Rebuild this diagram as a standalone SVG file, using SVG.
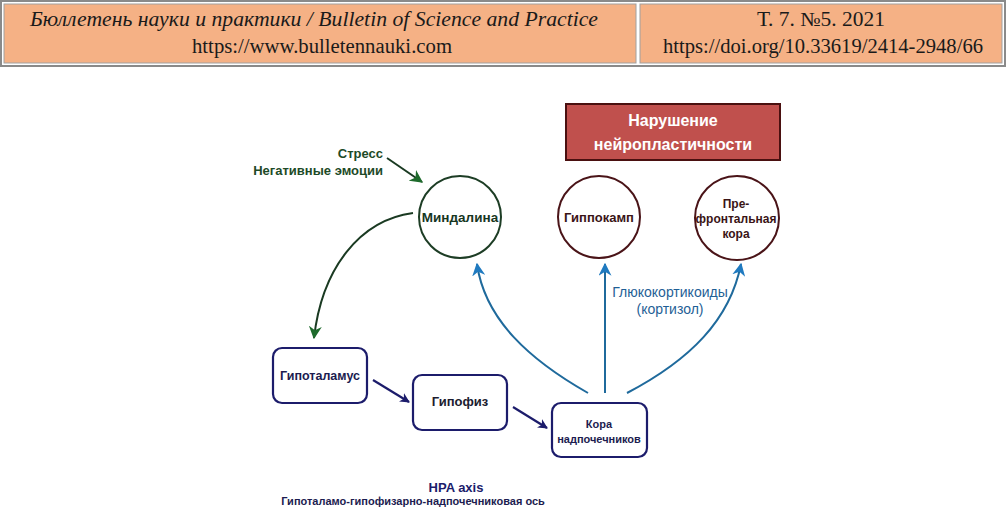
<svg xmlns="http://www.w3.org/2000/svg" width="1007" height="521" viewBox="0 0 1007 521">
<style>
.hdr{font-family:"Liberation Serif","Times New Roman",serif;font-size:20px;fill:#1a1a1a;text-anchor:middle}
.it{font-style:italic}
.lbl{font-family:"Liberation Sans",Arial,sans-serif;font-weight:bold;text-anchor:middle}
.box{fill:#fff;stroke:#1c1c6b;stroke-width:2.2}
.cg{fill:#fff;stroke:#1d3d25;stroke-width:2}
.cr{fill:#fff;stroke:#4a1418;stroke-width:2}
.blue{fill:none;stroke:#1f6a9c;stroke-width:2}
.navy{fill:none;stroke:#1c1c6b;stroke-width:2.2}
.green{fill:none;stroke:#1a3a22;stroke-width:2}
</style>
<defs>
<marker id="ab" viewBox="0 0 10 10" refX="9" refY="5" markerWidth="13" markerHeight="13" orient="auto" markerUnits="userSpaceOnUse">
<path d="M0,0 L10,5 L0,10 L3,5 Z" fill="#1f7ac0"/>
</marker>
<marker id="an" viewBox="0 0 10 10" refX="9" refY="5" markerWidth="10" markerHeight="10" orient="auto" markerUnits="userSpaceOnUse">
<path d="M0,0 L10,5 L0,10 L3,5 Z" fill="#1c1c6b"/>
</marker>
<marker id="ag" viewBox="0 0 10 10" refX="9" refY="5" markerWidth="13" markerHeight="13" orient="auto" markerUnits="userSpaceOnUse">
<path d="M0,0 L10,5 L0,10 L3,5 Z" fill="#1e6b2c"/>
</marker>
</defs>
<rect width="1007" height="521" fill="#fff"/>
<g id="header">
<rect x="1" y="1" width="1004" height="65" fill="#fff" stroke="#8a8a8a" stroke-width="2"/>
<rect x="4" y="4" width="632" height="59" fill="#F5B185" stroke="#a0a0a0" stroke-width="1"/>
<rect x="640" y="4" width="362" height="59" fill="#F5B185" stroke="#a0a0a0" stroke-width="1"/>
<text class="hdr it" x="314" y="26" textLength="568" lengthAdjust="spacingAndGlyphs">Бюллетень науки и практики / Bulletin of Science and Practice</text>
<text class="hdr" x="322" y="53" textLength="260" lengthAdjust="spacingAndGlyphs">https://www.bulletennauki.com</text>
<text class="hdr" x="821" y="26" textLength="128" lengthAdjust="spacingAndGlyphs">Т. 7. №5. 2021</text>
<text class="hdr" x="823" y="53" textLength="320" lengthAdjust="spacingAndGlyphs">https://doi.org/10.33619/2414-2948/66</text>
</g>
<g id="connectors">
<path class="green" d="M387,158 L422,182" marker-end="url(#ag)"/>
<path class="green" d="M413,213 C360,220 322,268 314,338" marker-end="url(#ag)"/>
<path class="navy" d="M373,380 L409,402" marker-end="url(#an)"/>
<path class="navy" d="M513,407 L547,428" marker-end="url(#an)"/>
<path class="blue" d="M588,393 C530,360 485,320 477,264" marker-end="url(#ab)"/>
<path class="blue" d="M605,393 L605,264" marker-end="url(#ab)"/>
<path class="blue" d="M627,393 C690,360 730,320 741,264" marker-end="url(#ab)"/>
</g>
<g id="stress">
<text class="lbl" x="383" y="158" font-size="13" fill="#1d4a27" style="text-anchor:end">Стресс</text>
<text class="lbl" x="383" y="175" font-size="13" fill="#1d4a27" style="text-anchor:end">Негативные эмоции</text>
</g>
<g id="title">
<rect x="566" y="104" width="214" height="56" fill="#c0504d" stroke="#4a1010" stroke-width="2"/>
<text class="lbl" x="673" y="126" font-size="16" fill="#fff">Нарушение</text>
<text class="lbl" x="673" y="150" font-size="16" fill="#fff">нейропластичности</text>
</g>
<g id="amygdala">
<circle class="cg" cx="460" cy="217" r="41"/>
<text class="lbl" x="460" y="222" font-size="13.5" fill="#17361f">Миндалина</text>
</g>
<g id="hippocampus">
<circle class="cr" cx="599" cy="217" r="41"/>
<text class="lbl" x="599" y="222" font-size="13" fill="#3a1416">Гиппокамп</text>
</g>
<g id="prefrontal">
<circle class="cr" cx="737" cy="218" r="42"/>
<text class="lbl" x="736" y="208" font-size="12" fill="#3a1416">Пре-</text>
<text class="lbl" x="736" y="223" font-size="12" fill="#3a1416">фронтальная</text>
<text class="lbl" x="736" y="238" font-size="12" fill="#3a1416">кора</text>
</g>
<g id="hypothalamus">
<rect class="box" x="273" y="348" width="94" height="55" rx="9"/>
<text class="lbl" x="320" y="380" font-size="12.5" fill="#1c1c50">Гипоталамус</text>
</g>
<g id="pituitary">
<rect class="box" x="413" y="375" width="94" height="55" rx="9"/>
<text class="lbl" x="460" y="406" font-size="13" fill="#1c1c30">Гипофиз</text>
</g>
<g id="adrenal">
<rect class="box" x="552" y="403" width="95" height="54" rx="9"/>
<text class="lbl" x="599" y="428" font-size="11" fill="#1c1c50" style="font-weight:600">Кора</text>
<text class="lbl" x="599" y="443" font-size="11" fill="#1c1c50" style="font-weight:600">надпочечников</text>
</g>
<g id="gluco">
<text class="lbl" x="670" y="297" font-size="14" fill="#1f5f96" style="font-weight:normal">Глюкокортикоиды</text>
<text class="lbl" x="670" y="314" font-size="14" fill="#1f5f96" style="font-weight:normal">(кортизол)</text>
</g>
<g id="caption">
<text class="lbl" x="456" y="492" font-size="13" fill="#1c1c6b">HPA axis</text>
<text class="lbl" x="413" y="505" font-size="11" fill="#1c1c50">Гипоталамо-гипофизарно-надпочечниковая ось</text>
</g>
</svg>
